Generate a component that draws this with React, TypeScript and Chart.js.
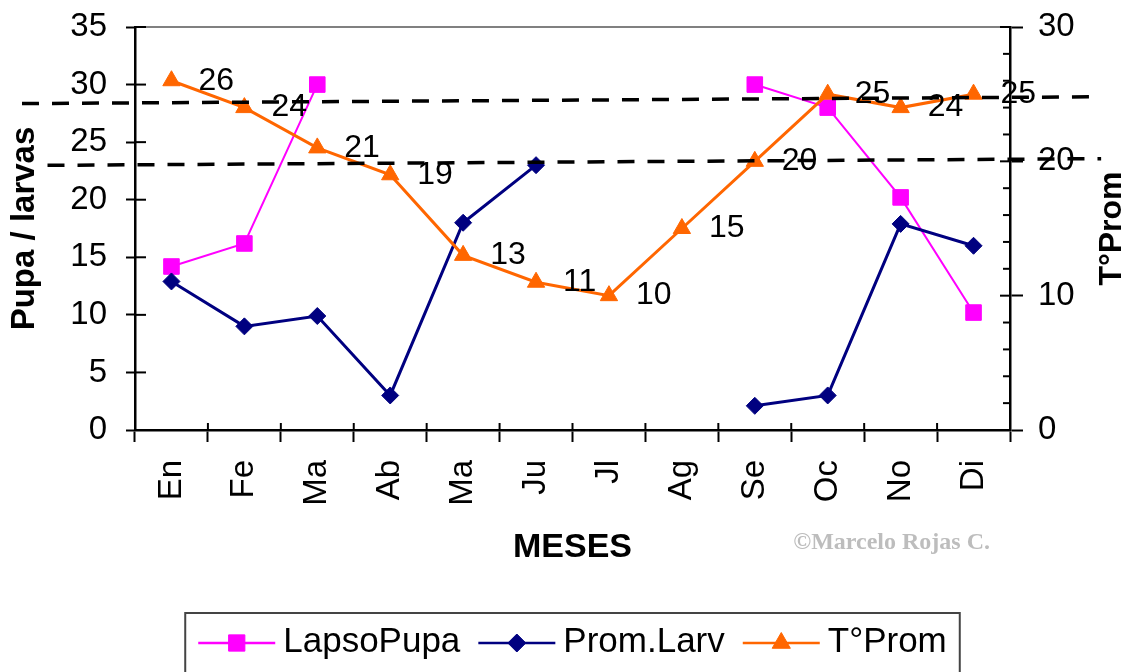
import { useEffect, useRef } from 'react';
import { Chart, registerables } from 'chart.js';

Chart.register(...registerables);

const FONT = '"Liberation Sans", Arial, Helvetica, sans-serif';
const SERIF = '"Liberation Serif", "Times New Roman", serif';

// ---- data ----
const months = ['En', 'Fe', 'Ma', 'Ab', 'Ma', 'Ju', 'Jl', 'Ag', 'Se', 'Oc', 'No', 'Di'];
const lapsoPupa: (number | null)[] = [14.2, 16.2, 30, null, null, null, null, null, 30, 28, 20.2, 10.2];
const promLarv: (number | null)[] = [12.9, 9.0, 9.9, 3.0, 18.0, 23.0, null, null, 2.1, 3.0, 17.9, 16.0];
const tProm: number[] = [26, 24, 21, 19, 13, 11, 10, 15, 20, 25, 24, 25];
const seriesNames = ['LapsoPupa', 'Prom.Larv', 'T°Prom'];
const leftAxisRange = [0, 35, 5];
const rightAxisRange = [0, 30, 2, 10];
// reference dashed lines, in (category index, right-axis value) units
const refLineX0 = [-2.05, -1.7];
const refLineX1 = [12.6, 12.75];
const refLineY0 = [24.3, 19.7];
const refLineY1 = [24.8, 20.2];

const titles = { left: 'Pupa / larvas', right: 'T°Prom', x: 'MESES' };
const watermark = '©Marcelo Rojas C.';

const COLORS = ['#FF00FF', '#000080', '#FF6600'];
const STYLES = ['rect', 'rectRot', 'triangle'];
const RADII = [11, 8.5, 10];
const WIDTHS = [2, 3, 3];

function drawMarker(ctx: CanvasRenderingContext2D, style: string, x: number, y: number, r: number, color: string) {
  ctx.save();
  ctx.fillStyle = color;
  ctx.strokeStyle = color;
  ctx.lineWidth = 1;
  ctx.beginPath();
  if (style === 'rect') {
    const s = r * Math.SQRT1_2;
    ctx.rect(x - s, y - s, 2 * s, 2 * s);
  } else if (style === 'rectRot') {
    ctx.moveTo(x, y - r);
    ctx.lineTo(x + r, y);
    ctx.lineTo(x, y + r);
    ctx.lineTo(x - r, y);
    ctx.closePath();
  } else {
    ctx.moveTo(x, y - r);
    ctx.lineTo(x + r * 0.866, y + r * 0.5);
    ctx.lineTo(x - r * 0.866, y + r * 0.5);
    ctx.closePath();
  }
  ctx.fill();
  ctx.stroke();
  ctx.restore();
}

const decorPlugin = {
  id: 'decor',
  beforeDatasetsDraw(chart: any) {
    const ctx: CanvasRenderingContext2D = chart.ctx;
    const { left, right, top, bottom } = chart.chartArea;
    ctx.save();
    // top frame line
    ctx.strokeStyle = '#808080';
    ctx.lineWidth = 2;
    ctx.beginPath();
    ctx.moveTo(left, top);
    ctx.lineTo(right, top);
    ctx.stroke();
    // inner tick stubs
    ctx.strokeStyle = '#000';
    ctx.lineWidth = 2;
    const y = chart.scales.y;
    y.ticks.forEach((t: any) => {
      const p = y.getPixelForValue(t.value);
      ctx.beginPath();
      ctx.moveTo(left, p);
      ctx.lineTo(left + 11, p);
      ctx.stroke();
    });
    const y1 = chart.scales.y1;
    y1.ticks.forEach((t: any) => {
      const p = y1.getPixelForValue(t.value);
      const len = t.value % rightAxisRange[3] === 0 ? 10 : 7;
      ctx.beginPath();
      ctx.moveTo(right, p);
      ctx.lineTo(right - len, p);
      ctx.stroke();
    });
    const x = chart.scales.x;
    for (let i = 0; i <= months.length; i++) {
      const p = x.getPixelForValue(i - 0.5);
      ctx.beginPath();
      ctx.moveTo(p, bottom);
      ctx.lineTo(p, bottom - 7);
      ctx.stroke();
    }
    ctx.restore();
  },
  afterDatasetsDraw(chart: any) {
    const ctx: CanvasRenderingContext2D = chart.ctx;
    const meta = chart.getDatasetMeta(2);
    ctx.save();
    ctx.font = `32px ${FONT}`;
    ctx.fillStyle = '#000';
    ctx.textAlign = 'left';
    ctx.textBaseline = 'middle';
    meta.data.forEach((pt: any, i: number) => {
      ctx.fillText(String(tProm[i]), pt.x + 27, pt.y);
    });
    ctx.restore();
  },
  afterDraw(chart: any) {
    const ctx: CanvasRenderingContext2D = chart.ctx;
    const { left, right, top, bottom } = chart.chartArea;
    const x = chart.scales.x;
    const y1 = chart.scales.y1;
    ctx.save();
    // dashed reference lines
    ctx.strokeStyle = '#000';
    ctx.lineWidth = 3.5;
    ctx.setLineDash([17, 13]);
    for (let i = 0; i < refLineX0.length; i++) {
      ctx.beginPath();
      ctx.moveTo(x.getPixelForValue(refLineX0[i]), y1.getPixelForValue(refLineY0[i]));
      ctx.lineTo(x.getPixelForValue(refLineX1[i]), y1.getPixelForValue(refLineY1[i]));
      ctx.stroke();
    }
    ctx.setLineDash([]);

    // right axis title (reads bottom-to-top)
    ctx.save();
    ctx.translate(right + 102, (top + bottom) / 2);
    ctx.rotate(-Math.PI / 2);
    ctx.font = `bold 32px ${FONT}`;
    ctx.fillStyle = '#000';
    ctx.textAlign = 'center';
    ctx.textBaseline = 'middle';
    ctx.fillText(titles.right, 0, 0);
    ctx.restore();

    // watermark
    ctx.font = `bold 24px ${SERIF}`;
    ctx.fillStyle = '#bdbdbd';
    ctx.textAlign = 'right';
    ctx.textBaseline = 'middle';
    ctx.fillText(watermark, right - 20, x.bottom - 25);

    // legend
    ctx.font = `35px ${FONT}`;
    const lineLen = 77, gapText = 8, itemGap = 18, pad = 13;
    const widths = seriesNames.map((n) => ctx.measureText(n).width);
    const content = widths.reduce((a, w) => a + lineLen + gapText + w, 0) + itemGap * (seriesNames.length - 1);
    const boxW = content + pad * 2;
    const cx = (left + right) / 2;
    const boxL = cx - boxW / 2;
    const boxT = chart.height - 59;
    const rowY = boxT + 29;
    ctx.strokeStyle = '#444';
    ctx.lineWidth = 2;
    ctx.strokeRect(boxL, boxT, boxW, 100);
    let cur = boxL + pad;
    seriesNames.forEach((name, i) => {
      ctx.strokeStyle = COLORS[i];
      ctx.lineWidth = 2.5;
      ctx.beginPath();
      ctx.moveTo(cur, rowY + 1);
      ctx.lineTo(cur + lineLen, rowY + 1);
      ctx.stroke();
      drawMarker(ctx, STYLES[i], cur + lineLen / 2, rowY + 1, RADII[i] + 0.5, COLORS[i]);
      ctx.fillStyle = '#000';
      ctx.textAlign = 'left';
      ctx.textBaseline = 'middle';
      ctx.fillText(name, cur + lineLen + gapText, rowY);
      cur += lineLen + gapText + widths[i] + itemGap;
    });
    ctx.restore();
  },
};

const noVerticalPadding = (s: any, width: number) => {
  s.width = width;
  s.paddingTop = 0;
  s.paddingBottom = 0;
};

export default function App() {
  const ref = useRef<HTMLCanvasElement>(null);
  useEffect(() => {
    if (!ref.current) return;
    Chart.defaults.font.family = FONT;
    const datasets = [lapsoPupa, promLarv, tProm].map((d, i) => ({
      label: seriesNames[i],
      data: d,
      yAxisID: i === 2 ? 'y1' : 'y',
      borderColor: COLORS[i],
      backgroundColor: COLORS[i],
      pointBackgroundColor: COLORS[i],
      pointBorderColor: COLORS[i],
      borderWidth: WIDTHS[i],
      pointStyle: STYLES[i],
      pointRadius: RADII[i],
      pointBorderWidth: 1,
      spanGaps: false,
      tension: 0,
      order: 3 - i,
    }));
    const chart = new Chart(ref.current, {
      type: 'line',
      data: { labels: months, datasets: datasets as any },
      plugins: [decorPlugin],
      options: {
        responsive: false,
        animation: false,
        layout: { padding: { top: 27, bottom: 104, left: 0, right: 0 } },
        plugins: { legend: { display: false }, tooltip: { enabled: false } },
        scales: {
          x: {
            type: 'category',
            offset: true,
            grid: { offset: true, drawOnChartArea: false, drawTicks: true, tickLength: 12, tickColor: '#000', tickWidth: 2 },
            border: { color: '#000', width: 2.5 },
            ticks: { minRotation: 90, maxRotation: 90, autoSkip: false, padding: 18, color: '#000', font: { size: 33 } },
            title: { display: true, text: titles.x, color: '#000', font: { size: 34, weight: 'bold' }, padding: 0 },
            afterFit: (s: any) => { s.height = 138; s.paddingLeft = 0; s.paddingRight = 0; },
          },
          y: {
            position: 'left',
            min: leftAxisRange[0],
            max: leftAxisRange[1],
            ticks: { stepSize: leftAxisRange[2], padding: 19, color: '#000', font: { size: 33 }, autoSkip: false },
            grid: { drawOnChartArea: false, tickLength: 9, tickColor: '#000', tickWidth: 2 },
            border: { color: '#000', width: 2.5 },
            title: { display: true, text: titles.left, color: '#000', font: { size: 33, weight: 'bold' }, padding: { top: 5, bottom: 0 } },
            afterFit: (s: any) => noVerticalPadding(s, 135),
          },
          y1: {
            position: 'right',
            min: rightAxisRange[0],
            max: rightAxisRange[1],
            ticks: {
              stepSize: rightAxisRange[2],
              autoSkip: false,
              padding: 15,
              color: '#000',
              font: { size: 33 },
              callback: (v: any) => (Number(v) % rightAxisRange[3] === 0 ? String(v) : ''),
            },
            grid: {
              drawOnChartArea: false,
              tickLength: 13,
              tickWidth: 2,
              tickColor: (c: any) => (c.tick && c.tick.value % rightAxisRange[3] === 0 ? '#000' : 'rgba(0,0,0,0)'),
            },
            border: { color: '#000', width: 2.5 },
            title: { display: false, text: titles.right },
            afterFit: (s: any) => noVerticalPadding(s, 121),
          },
        },
      } as any,
    });
    return () => chart.destroy();
  }, []);
  return (
    <div style={{ position: 'absolute', left: 0, top: 0, width: 1131, height: 672, overflow: 'hidden', background: '#fff' }}>
      <canvas ref={ref} width={1131} height={672} style={{ display: 'block' }} />
    </div>
  );
}
